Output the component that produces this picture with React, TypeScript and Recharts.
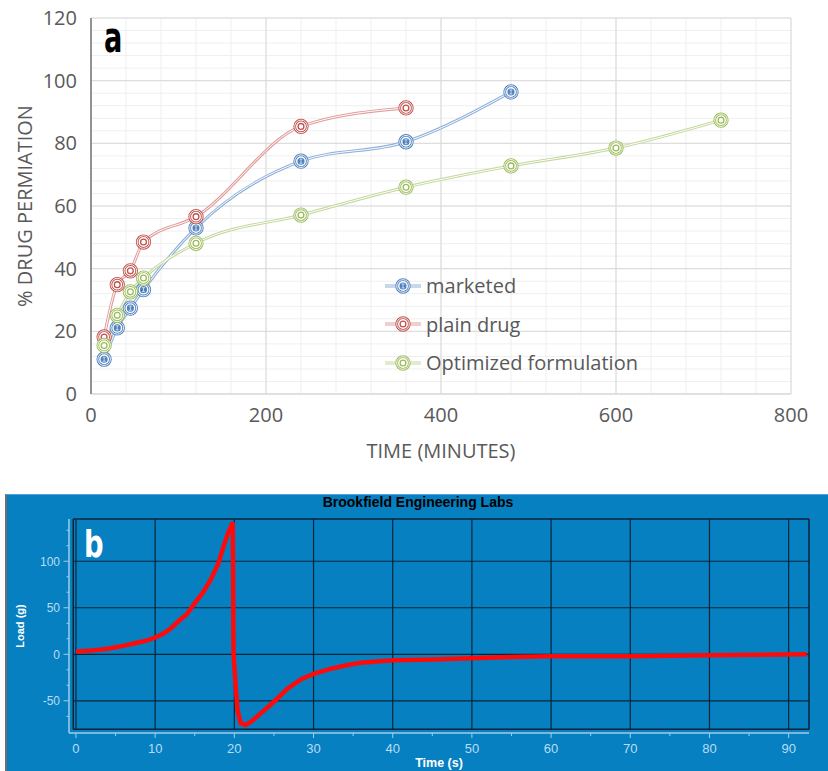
import React from 'react';
import { LineChart, Line, XAxis, YAxis, CartesianGrid, Legend, ReferenceLine } from 'recharts';

// ---------- panel a: drug permeation ----------
const minutes = [15, 30, 45, 60, 120, 240, 360, 480, 600, 720];
const marketed = [11.1, 21.1, 27.4, 33.3, 53.0, 74.3, 80.5, 96.4, null, null];
const plainDrug = [18.2, 34.9, 39.3, 48.5, 56.6, 85.4, 91.3, null, null, null];
const optimized = [15.5, 25.1, 32.6, 37.0, 48.1, 57.1, 66.0, 72.8, 78.5, 87.4];

const minuteTicks = [0, 200, 400, 600, 800];
const percentTicks = [0, 20, 40, 60, 80, 100, 120];
const minuteMinor = Array.from({ length: 21 }, (_, i) => i * 40);
const percentMinor = Array.from({ length: 31 }, (_, i) => i * 4);

// ---------- panel b: texture analyser trace ----------
const timeS = [0, 1, 2, 3, 4, 5, 6, 7, 8, 9, 10, 11, 12, 13, 14, 15, 16, 17, 18, 18.6, 19.2, 19.6, 19.8, 19.9, 20.0, 20.2, 20.4, 20.8, 21.4, 22.2, 23.4, 25, 26.7, 28.4, 30, 32, 34, 36, 40, 45, 50, 55, 60, 70, 80, 92.3];
const loadG = [3, 3.5, 4, 5, 6, 7.5, 9, 11, 13, 15, 18, 22, 28, 36, 43, 55, 66, 80, 98, 115, 130, 138, 142, 1.5, -13, -38, -60, -74, -76, -72, -63, -51, -37, -27, -21, -16, -12, -9, -6.5, -5.5, -4.3, -3, -2, -2, -1, 0];

const secondTicks = [0, 5, 10, 15, 20, 25, 30, 35, 40, 45, 50, 55, 60, 65, 70, 75, 80, 85, 90];
const loadTicks = [-66.7, -50, -33.3, -16.7, 0, 16.7, 33.3, 50, 66.7, 83.3, 100, 116.7, 133.3];
const gridSeconds = [0, 10, 20, 30, 40, 50, 60, 70, 80, 90];
const gridLoads = [-50, 0, 50, 100];

const permeation = minutes.map((m, i) => ({
  m,
  marketed: marketed[i],
  plain: plainDrug[i],
  optimized: optimized[i],
}));

const trace = timeS.map((t, i) => ({ t, load: loadG[i] }));

const seriesA = [
  { key: 'marketed', name: 'marketed', ring: '#4f81bd', line: '#8fb0da', bar: true },
  { key: 'plain', name: 'plain drug', ring: '#c0504d', line: '#e09d9b', bar: false },
  { key: 'optimized', name: 'Optimized formulation', ring: '#9bbb59', line: '#c3d79c', bar: false },
];

const grayText = '#595959';
const axisBlue = '#9fcdea';
const labelBlue = '#b8ddf4';
const darkGrid = '#0a2436';

// domain and box edges for panel b
const bXMin = -0.88;
const bXMax = 92.57;
const bYMin = -84.6;
const bYMax = 145.4;
const boxLeft = -0.34;
const boxBottom = -80.6;

function Ring({ cx, cy, color, bar }: any) {
  if (cx == null || cy == null || isNaN(cx) || isNaN(cy)) return <g />;
  return (
    <g>
      <circle cx={cx} cy={cy} r={6.3} fill="#fff" stroke={color} strokeWidth={2.7} />
      <circle cx={cx} cy={cy} r={6.3} fill="none" stroke="#fff" strokeWidth={0.9} />
      <circle cx={cx} cy={cy} r={2.9} fill={bar ? color : '#fff'} stroke={color} strokeWidth={1.3} />
      {bar && (
        <path
          d={`M${cx - 1.5},${cy - 2} L${cx + 1.5},${cy - 2} M${cx},${cy - 2} L${cx},${cy + 2} M${cx - 1.5},${cy + 2} L${cx + 1.5},${cy + 2}`}
          stroke="#dfe8f4"
          strokeWidth={0.8}
          fill="none"
        />
      )}
    </g>
  );
}

function renderLegend() {
  return (
    <div style={{ fontFamily: '"Open Sans", sans-serif', fontSize: 20, color: grayText }}>
      {seriesA.map((s) => (
        <div key={s.key} style={{ display: 'flex', alignItems: 'center', height: 38.5 }}>
          <svg width={36} height={20} style={{ marginRight: 5, overflow: 'visible' }}>
            <line x1={0} x2={36} y1={10} y2={10} stroke={s.line} strokeWidth={3} />
            <line x1={0} x2={36} y1={10} y2={10} stroke="#fff" strokeWidth={1} />
            <Ring cx={18} cy={10} color={s.ring} bar={s.bar} />
          </svg>
          <span>{s.name}</span>
        </div>
      ))}
    </div>
  );
}

function LoadTick({ x, y, payload }: any) {
  const major = Math.abs(payload.value % 50) < 0.01;
  return (
    <g>
      <line x1={x} x2={x - (major ? 5.5 : 2.5)} y1={y} y2={y} stroke={axisBlue} strokeWidth={1} />
      {major && (
        <text x={x - 9} y={y} dy="0.36em" textAnchor="end" fill={labelBlue} fontSize={12} fontFamily="Liberation Sans, Arial, sans-serif">
          {payload.value}
        </text>
      )}
    </g>
  );
}

function SecondTick({ x, y, payload }: any) {
  const major = payload.value % 10 === 0;
  return (
    <g>
      <line x1={x} x2={x} y1={y} y2={y + (major ? 5 : 3)} stroke={axisBlue} strokeWidth={1} />
      {major && (
        <text x={x} y={y + 19.5} textAnchor="middle" fill={labelBlue} fontSize={13} fontFamily="Liberation Sans, Arial, sans-serif">
          {payload.value}
        </text>
      )}
    </g>
  );
}

function PermeationChart() {
  return (
    <LineChart width={828} height={470} data={permeation} margin={{ top: 18, right: 37, bottom: 46, left: 0 }}>
      <CartesianGrid stroke="#efefef" horizontalValues={percentMinor} verticalValues={minuteMinor} />
      <CartesianGrid stroke="#d9d9d9" horizontalValues={percentTicks} verticalValues={minuteTicks} />
      <XAxis
        dataKey="m"
        type="number"
        domain={[0, 800]}
        ticks={minuteTicks}
        interval={0}
        tickLine={false}
        tickSize={0}
        tickMargin={14}
        axisLine={{ stroke: '#d9d9d9' }}
        tick={{ fill: grayText, fontSize: 20, fontFamily: '"Open Sans", sans-serif' }}
        height={30}
        label={{ value: 'TIME (MINUTES)', position: 'bottom', offset: 20, fill: grayText, fontSize: 20, fontFamily: '"Open Sans", sans-serif' }}
      />
      <YAxis
        type="number"
        domain={[0, 120]}
        ticks={percentTicks}
        interval={0}
        width={91}
        tickLine={false}
        tickSize={0}
        tickMargin={14}
        axisLine={{ stroke: '#6f6f6f', strokeWidth: 1.4 }}
        tick={{ fill: grayText, fontSize: 20, fontFamily: '"Open Sans", sans-serif' }}
        label={{
          value: '% DRUG PERMIATION',
          angle: -90,
          position: 'insideLeft',
          offset: 25,
          fill: grayText,
          fontSize: 20,
          fontFamily: '"Open Sans", sans-serif',
          style: { textAnchor: 'middle' },
        }}
      />
      {seriesA.map((s) => (
        <Line
          key={s.key + '-outer'}
          type="monotone"
          dataKey={s.key}
          stroke={s.line}
          strokeWidth={3}
          dot={false}
          activeDot={false}
          legendType="none"
          isAnimationActive={false}
        />
      ))}
      {seriesA.map((s) => (
        <Line
          key={s.key + '-inner'}
          type="monotone"
          dataKey={s.key}
          stroke="#ffffff"
          strokeWidth={1}
          dot={false}
          activeDot={false}
          legendType="none"
          isAnimationActive={false}
        />
      ))}
      {seriesA.map((s) => (
        <Line
          key={s.key + '-marks'}
          type="monotone"
          dataKey={s.key}
          name={s.name}
          stroke="none"
          dot={(p: any) => <Ring key={s.key + p.index} cx={p.cx} cy={p.cy} color={s.ring} bar={s.bar} />}
          activeDot={false}
          isAnimationActive={false}
        />
      ))}
      <Legend
        content={renderLegend}
        layout="vertical"
        align="center"
        verticalAlign="middle"
        wrapperStyle={{ left: 385, top: 266.5, width: 300 }}
      />
    </LineChart>
  );
}

function TraceChart() {
  return (
    <LineChart width={823} height={277} data={trace} margin={{ top: 25, right: 19, bottom: 16, left: 0 }}>
      <XAxis
        dataKey="t"
        type="number"
        domain={[bXMin, bXMax]}
        allowDataOverflow
        ticks={secondTicks}
        interval={0}
        tickLine={false}
        tickSize={0}
        tickMargin={0}
        axisLine={{ stroke: axisBlue, strokeWidth: 1.5 }}
        tick={<SecondTick />}
        height={22}
        label={{ value: 'Time (s)', position: 'bottom', offset: 3, fill: '#ffffff', fontSize: 12.5, fontWeight: 'bold', fontFamily: 'Liberation Sans, Arial, sans-serif' }}
      />
      <YAxis
        type="number"
        domain={[bYMin, bYMax]}
        allowDataOverflow
        ticks={loadTicks}
        interval={0}
        width={64}
        tickLine={false}
        tickSize={0}
        tickMargin={0}
        axisLine={{ stroke: axisBlue, strokeWidth: 1.5 }}
        tick={<LoadTick />}
        label={{
          value: 'Load (g)',
          angle: -90,
          position: 'insideLeft',
          offset: 15,
          fill: '#ffffff',
          fontSize: 11,
          fontWeight: 'bold',
          fontFamily: 'Liberation Sans, Arial, sans-serif',
          style: { textAnchor: 'middle' },
        }}
      />
      {gridSeconds.map((s) => (
        <ReferenceLine key={'gx' + s} segment={[{ x: s, y: boxBottom }, { x: s, y: bYMax }]} stroke={darkGrid} strokeWidth={1.2} />
      ))}
      {gridLoads.map((v) => (
        <ReferenceLine key={'gy' + v} segment={[{ x: boxLeft, y: v }, { x: bXMax, y: v }]} stroke={darkGrid} strokeWidth={1.2} />
      ))}
      <ReferenceLine segment={[{ x: boxLeft, y: boxBottom }, { x: boxLeft, y: bYMax }]} stroke={darkGrid} strokeWidth={1.5} />
      <ReferenceLine segment={[{ x: boxLeft, y: boxBottom }, { x: bXMax, y: boxBottom }]} stroke={darkGrid} strokeWidth={1.5} />
      <ReferenceLine segment={[{ x: boxLeft, y: bYMax }, { x: bXMax, y: bYMax }]} stroke={darkGrid} strokeWidth={1.5} />
      <ReferenceLine segment={[{ x: bXMax, y: boxBottom }, { x: bXMax, y: bYMax }]} stroke={darkGrid} strokeWidth={1.5} />
      <Line
        type="linear"
        dataKey="load"
        stroke="#ff0a0a"
        strokeWidth={4.5}
        dot={false}
        activeDot={false}
        isAnimationActive={false}
      />
    </LineChart>
  );
}

export default function App() {
  return (
    <div style={{ position: 'absolute', left: 0, top: 0, width: 828, height: 771, background: '#fff', overflow: 'hidden' }}>
      <div style={{ position: 'absolute', left: 0, top: 0 }}>
        <PermeationChart />
      </div>
      <div
        style={{
          position: 'absolute',
          left: 104,
          top: 17,
          fontFamily: '"Liberation Sans Narrow", "DejaVu Sans Condensed", sans-serif',
          fontWeight: 'bold',
          fontSize: 42,
          lineHeight: 1,
          color: '#000',
          transform: 'scaleX(0.72)',
          transformOrigin: 'left top',
        }}
      >
        a
      </div>

      <div
        style={{
          position: 'absolute',
          left: 5,
          top: 494,
          width: 823,
          height: 277,
          background: '#0680c1',
          boxSizing: 'border-box',
          borderLeft: '2px solid #6e6e6e',
          borderTop: '1px solid #4aa6dc',
        }}
      />
      <div style={{ position: 'absolute', left: 5, top: 494 }}>
        <TraceChart />
      </div>
      <div
        style={{
          position: 'absolute',
          left: 218,
          top: 495,
          width: 400,
          textAlign: 'center',
          fontFamily: 'Liberation Sans, Arial, sans-serif',
          fontWeight: 'bold',
          fontSize: 14,
          lineHeight: '14px',
          color: '#000',
        }}
      >
        Brookfield Engineering Labs
      </div>
      <div
        style={{
          position: 'absolute',
          left: 84,
          top: 525,
          fontFamily: '"Liberation Sans Narrow", "DejaVu Sans Condensed", sans-serif',
          fontWeight: 'bold',
          fontSize: 38,
          lineHeight: 1,
          color: '#fff',
          transform: 'scaleX(0.8)',
          transformOrigin: 'left top',
        }}
      >
        b
      </div>
    </div>
  );
}
